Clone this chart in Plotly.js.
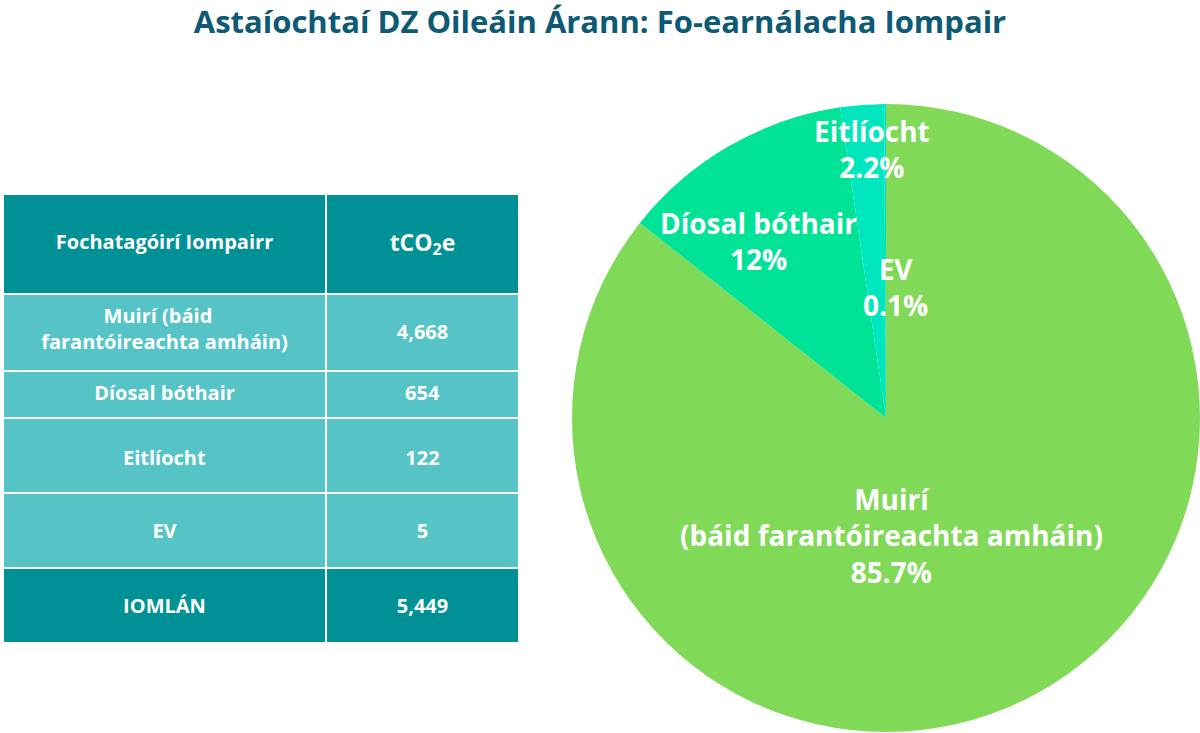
<!DOCTYPE html>
<html>
<head>
<meta charset="utf-8">
<script src="https://cdn.plot.ly/plotly-3.0.1.min.js"></script>
<style>
  html, body { margin: 0; padding: 0; background: #ffffff; }
  #chart { width: 1200px; height: 733px; }
</style>
</head>
<body>
<div id="chart"></div>
<script>
var categories = ['Muirí (báid farantóireachta amháin)', 'Díosal bóthair', 'Eitlíocht', 'EV'];
var pieNames = ['Muirí<br>(báid farantóireachta amháin)', 'Díosal bóthair', 'Eitlíocht', 'EV'];
var tableNames = ['Muirí (báid<br>farantóireachta amháin)', 'Díosal bóthair', 'Eitlíocht', 'EV'];
var values = [4668, 654, 122, 5];
var totalLabel = 'IOMLÁN';
var headers = ['Fochatagóirí Iompairr', 'tCO<sub>2</sub>e'];

var colours = ['#80d957', '#00e396', '#00e6be', '#00e0c8'];
var headFill = '#009196';
var cellFill = '#56c4c7';
var white = '#ffffff';
var NB = '\u00a0';

var total = values.reduce(function(a, b) { return a + b; }, 0);

function fmt(n) {
  return n.toLocaleString('en-US');
}

var pcts = values.map(function(v) {
  return parseFloat((v / total * 100).toFixed(1)) + '%';
});

// pie
var pie = {
  type: 'pie',
  labels: categories,
  values: values,
  sort: false,
  direction: 'clockwise',
  rotation: 0,
  marker: {colors: colours, line: {width: 0}},
  textinfo: 'none',
  hoverinfo: 'label+value+percent',
  showlegend: false,
  domain: {x: [572 / 1200, 1], y: [1 / 733, 629 / 733]}
};

// table text is top aligned, so short rows get a blank first line
// (cell font sets the blank line height, the span sets the visible size)
function spaced(t) {
  return NB + '<br>' + t;
}
function spacedSpan(t, size) {
  return NB + '<br><span\nstyle="font-size:' + (size || 20) + 'px">' + t + '</span>';
}
// centre the short first line of a wrapped cell
function centreFirst(t) {
  return new Array(13).join(NB) + t;
}

var names = tableNames.concat([totalLabel]);
var nums = values.map(fmt).concat([fmt(total)]);

// upper block: header + first row
var tableTop = {
  type: 'table',
  domain: {x: [3 / 1200, 519 / 1200], y: [1 - 372 / 733, 1 - 194 / 733]},
  columnwidth: [323, 193],
  header: {
    values: [spaced(headers[0]), spacedSpan(headers[1], 23)],
    height: 100,
    align: 'center',
    fill: {color: headFill},
    line: {color: white, width: 2},
    font: {family: 'Open Sans', size: [20, 20.5], color: white, weight: 700}
  },
  cells: {
    values: [[centreFirst(names[0])], [spacedSpan(nums[0])]],
    height: 77,
    align: 'center',
    fill: {color: cellFill},
    line: {color: white, width: 2},
    font: {family: 'Open Sans', size: [20, 15.6], color: white, weight: 700}
  }
};

// lower block: remaining rows + total
var lowerFill = [cellFill, cellFill, headFill];
var lowerSize = [16.5, 15.6, 15.6];

var tableBottom = {
  type: 'table',
  domain: {x: [3 / 1200, 519 / 1200], y: [1 - 648 / 733, 1 - 371 / 733]},
  columnwidth: [323, 193],
  header: {
    values: [names[1] + '<br>', nums[1] + '<br>'],
    height: 47,
    align: 'center',
    fill: {color: cellFill},
    line: {color: white, width: 2},
    font: {family: 'Open Sans', size: 20, color: white, weight: 700}
  },
  cells: {
    values: [names.slice(2).map(function(t) { return spacedSpan(t); }),
             nums.slice(2).map(function(t) { return spacedSpan(t); })],
    height: 75,
    align: 'center',
    fill: {color: [lowerFill, lowerFill]},
    line: {color: white, width: 2},
    font: {family: 'Open Sans', size: [lowerSize, lowerSize], color: white, weight: 700}
  }
};

// slice labels
var labelPos = [[0.743, 0.270], [0.632, 0.671], [0.727, 0.797], [0.746, 0.608]];
var annotations = pieNames.map(function(name, i) {
  return {
    xref: 'paper', yref: 'paper',
    x: labelPos[i][0], y: labelPos[i][1],
    xanchor: 'center', yanchor: 'middle',
    text: name + '<br>' + pcts[i],
    showarrow: false,
    align: 'center',
    font: {family: 'Open Sans', size: 28, color: white, weight: 700}
  };
});

var layout = {
  width: 1200,
  height: 733,
  margin: {l: 0, r: 0, t: 0, b: 0},
  paper_bgcolor: white,
  title: {
    text: 'Astaíochtaí DZ Oileáin Árann: Fo-earnálacha Iompair',
    x: 0.5, xanchor: 'center',
    y: 1 - 22 / 733, yanchor: 'middle',
    font: {family: 'Open Sans', size: 31, color: '#0d5a75', weight: 700}
  },
  annotations: annotations
};

Plotly.newPlot('chart', [pie, tableTop, tableBottom], layout, {displayModeBar: false});
</script>
</body>
</html>
